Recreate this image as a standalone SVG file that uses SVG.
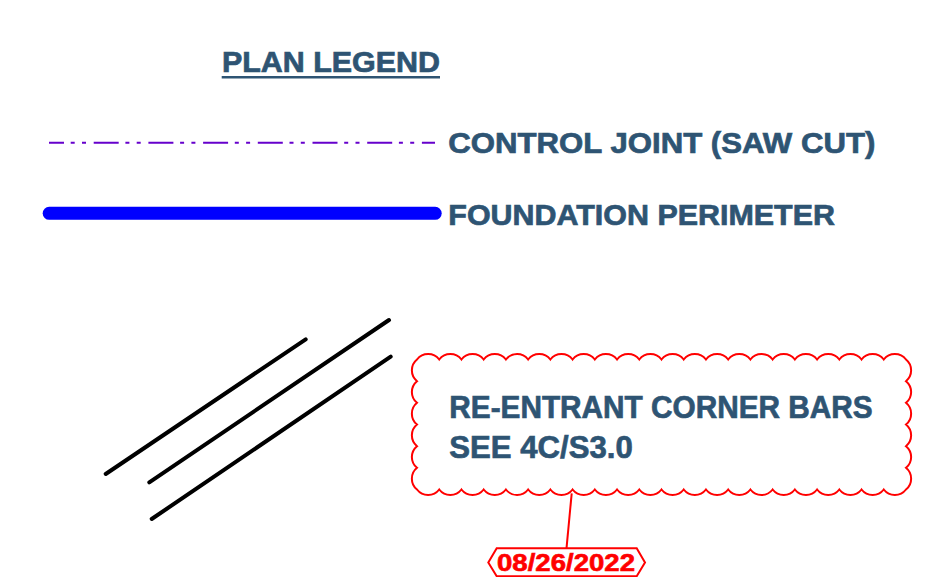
<svg xmlns="http://www.w3.org/2000/svg" width="930" height="577" viewBox="0 0 930 577">
  <style>
    .lbl { font-family: "Liberation Sans", Arial, sans-serif; font-weight: bold; fill: #2e5473; stroke: #2e5473; stroke-width: 0.7; }
    .red { font-family: "Liberation Sans", Arial, sans-serif; font-weight: bold; fill: #ff0000; stroke: #ff0000; stroke-width: 0.6; }
    .bar { stroke: #000000; stroke-width: 4; stroke-linecap: round; fill: none; }
  </style>
  <rect width="930" height="577" fill="#ffffff"/>

  <g id="title">
    <text class="lbl" x="222" y="71.7" font-size="29" textLength="218" lengthAdjust="spacingAndGlyphs">PLAN LEGEND</text>
    <line x1="221.7" y1="77.3" x2="440" y2="77.3" stroke="#2e5473" stroke-width="2.6"/>
  </g>

  <g id="legend-control-joint">
    <line x1="49" y1="142.7" x2="435" y2="142.7" stroke="#6600cc" stroke-width="2" stroke-dasharray="25 6.7 4 7.3 4 7.7" stroke-dashoffset="10"/>
    <text class="lbl" x="448.3" y="153.3" font-size="30" textLength="427" lengthAdjust="spacingAndGlyphs">CONTROL JOINT (SAW CUT)</text>
  </g>

  <g id="legend-foundation">
    <line x1="49.2" y1="213.3" x2="435.2" y2="213.3" stroke="#0000ff" stroke-width="13" stroke-linecap="round"/>
    <text class="lbl" x="448.3" y="225" font-size="30" textLength="386.7" lengthAdjust="spacingAndGlyphs">FOUNDATION PERIMETER</text>
  </g>

  <g id="corner-bars">
    <line class="bar" x1="105.7" y1="474" x2="305.7" y2="339.3"/>
    <line class="bar" x1="149.3" y1="482.3" x2="389" y2="320"/>
    <line class="bar" x1="151.7" y1="519" x2="390.7" y2="356.7"/>
  </g>

  <g id="cloud-note">
    <path fill="#ffffff" stroke="#ff0000" stroke-width="2" d="M417 359.5
      a14 14 0 0 1 22.227 0 a14 14 0 0 1 22.227 0 a14 14 0 0 1 22.227 0 a14 14 0 0 1 22.227 0
      a14 14 0 0 1 22.227 0 a14 14 0 0 1 22.227 0 a14 14 0 0 1 22.227 0 a14 14 0 0 1 22.227 0
      a14 14 0 0 1 22.227 0 a14 14 0 0 1 22.227 0 a14 14 0 0 1 22.227 0 a14 14 0 0 1 22.227 0
      a14 14 0 0 1 22.227 0 a14 14 0 0 1 22.227 0 a14 14 0 0 1 22.227 0 a14 14 0 0 1 22.227 0
      a14 14 0 0 1 22.227 0 a14 14 0 0 1 22.227 0 a14 14 0 0 1 22.227 0 a14 14 0 0 1 22.227 0
      a14 14 0 0 1 22.227 0 a14 14 0 0 1 22.227 0
      a14 14 0 0 1 0 21.667 a14 14 0 0 1 0 21.667 a14 14 0 0 1 0 21.667
      a14 14 0 0 1 0 21.667 a14 14 0 0 1 0 21.667 a14 14 0 0 1 0 21.667
      a14 14 0 0 1 -22.227 0 a14 14 0 0 1 -22.227 0 a14 14 0 0 1 -22.227 0 a14 14 0 0 1 -22.227 0
      a14 14 0 0 1 -22.227 0 a14 14 0 0 1 -22.227 0 a14 14 0 0 1 -22.227 0 a14 14 0 0 1 -22.227 0
      a14 14 0 0 1 -22.227 0 a14 14 0 0 1 -22.227 0 a14 14 0 0 1 -22.227 0 a14 14 0 0 1 -22.227 0
      a14 14 0 0 1 -22.227 0 a14 14 0 0 1 -22.227 0 a14 14 0 0 1 -22.227 0 a14 14 0 0 1 -22.227 0
      a14 14 0 0 1 -22.227 0 a14 14 0 0 1 -22.227 0 a14 14 0 0 1 -22.227 0 a14 14 0 0 1 -22.227 0
      a14 14 0 0 1 -22.227 0 a14 14 0 0 1 -22.227 0
      a14 14 0 0 1 0 -21.667 a14 14 0 0 1 0 -21.667 a14 14 0 0 1 0 -21.667
      a14 14 0 0 1 0 -21.667 a14 14 0 0 1 0 -21.667 a14 14 0 0 1 0 -21.667 Z"/>
    <text class="lbl" x="449.3" y="418.3" font-size="32" textLength="423.4" lengthAdjust="spacingAndGlyphs">RE-ENTRANT CORNER BARS</text>
    <text class="lbl" x="449.3" y="458.3" font-size="32" textLength="183.4" lengthAdjust="spacingAndGlyphs">SEE 4C/S3.0</text>
  </g>

  <g id="connectors">
    <line x1="571.7" y1="493.3" x2="566.5" y2="548.3" stroke="#ff0000" stroke-width="2"/>
  </g>

  <g id="revision-tag">
    <polygon points="488.3,562.5 496.7,548.3 636.7,548.3 645,562.5 636.7,576.2 496.7,576.2" fill="#ffffff" stroke="#ff0000" stroke-width="2"/>
    <text class="red" x="497" y="570.7" font-size="23" textLength="138" lengthAdjust="spacingAndGlyphs">08/26/2022</text>
  </g>
</svg>
